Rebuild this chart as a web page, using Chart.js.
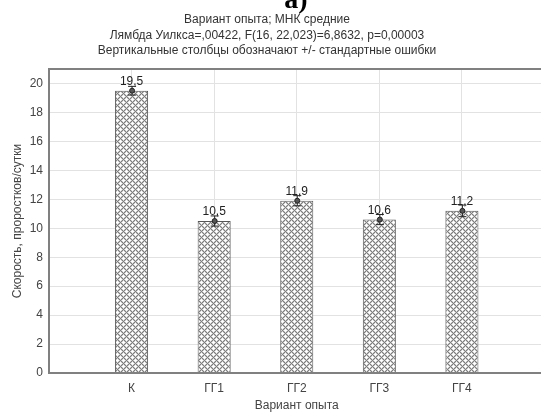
<!DOCTYPE html>
<html>
<head>
<meta charset="utf-8">
<script src="https://cdn.jsdelivr.net/npm/chart.js@4.4.1/dist/chart.umd.min.js"></script>
<style>
  html, body { margin: 0; padding: 0; overflow: hidden; background: #fff; }
  #wrap { width: 541px; height: 413px; overflow: hidden; }
  canvas { display: block; }
</style>
</head>
<body>
<div id="wrap"><canvas id="chart" width="560" height="413"></canvas></div>
<script>
// Means and standard errors of seedling speed per experiment variant
const categories = ['К', 'ГГ1', 'ГГ2', 'ГГ3', 'ГГ4'];
const means = [19.5, 10.5, 11.9, 10.6, 11.2];
const stdErrors = [0.3, 0.35, 0.35, 0.35, 0.4];
const yTicks = [0, 2, 4, 6, 8, 10, 12, 14, 16, 18, 20];
const panelLetter = 'а)';
const headerLines = [
  'Вариант опыта; МНК средние',
  'Лямбда Уилкса=,00422, F(16, 22,023)=6,8632, p=0,00003',
  'Вертикальные столбцы обозначают +/- стандартные ошибки'
];
const xTitle = 'Вариант опыта';
const yTitle = 'Скорость, проростков/сутки';

// empty slots on both sides keep a full category gap next to the frame
const xLabels = ['', ...categories, ''];
const barValues = [null, ...means, null];
const barErrors = [null, ...stdErrors, null];

const FONT = '"Liberation Sans", Arial, sans-serif';

// diagonal cross-hatch tile: dark crossing lines, a soft grey rim, white cells
function crossHatch(ctx) {
  const P = 6;
  const tile = document.createElement('canvas');
  tile.width = tile.height = P;
  const g = tile.getContext('2d');
  const img = g.createImageData(P, P);
  const dist = n => { const m = ((n % P) + P) % P; return Math.min(m, P - m); };
  for (let y = 0; y < P; y++) {
    for (let x = 0; x < P; x++) {
      const d = Math.min(dist(x + y), dist(x - y));
      const c = d === 0 ? 125 : d === 1 ? 205 : 255;
      const k = (y * P + x) * 4;
      img.data[k] = c; img.data[k + 1] = c; img.data[k + 2] = c; img.data[k + 3] = 255;
    }
  }
  g.putImageData(img, 0, 0);
  return ctx.createPattern(tile, 'repeat');
}

const headerPlugin = {
  id: 'header',
  afterDraw(chart) {
    const ctx = chart.ctx;
    ctx.save();
    ctx.fillStyle = '#000';
    ctx.textAlign = 'center';
    ctx.textBaseline = 'alphabetic';
    ctx.font = 'bold 28px "Liberation Serif", "Times New Roman", serif';
    ctx.fillText(panelLetter, 296, 8);
    ctx.fillStyle = '#333';
    ctx.textBaseline = 'middle';
    ctx.font = '12px ' + FONT;
    const ys = [20, 35.5, 51];
    headerLines.forEach((t, i) => ctx.fillText(t, 267, ys[i]));
    ctx.restore();
  }
};

const framePlugin = {
  id: 'frame',
  afterDatasetsDraw(chart) {
    const { ctx, chartArea: a } = chart;
    ctx.save();
    ctx.strokeStyle = '#808080';
    ctx.lineWidth = 2;
    ctx.strokeRect(a.left, a.top, a.right - a.left, a.bottom - a.top);
    ctx.restore();
  }
};

const errorBarPlugin = {
  id: 'errorBars',
  afterDatasetsDraw(chart) {
    const ctx = chart.ctx;
    const ys = chart.scales.y;
    const meta = chart.getDatasetMeta(0);
    ctx.save();
    meta.data.forEach((bar, i) => {
      const v = barValues[i];
      if (v == null) return;
      const e = barErrors[i];
      const x = bar.x;
      const yTop = ys.getPixelForValue(v + e);
      const yBot = ys.getPixelForValue(v - e);
      const yMid = ys.getPixelForValue(v);
      // value label
      ctx.fillStyle = '#222';
      ctx.font = '12px ' + FONT;
      ctx.textAlign = 'center';
      ctx.textBaseline = 'bottom';
      ctx.fillText(v.toFixed(1).replace('.', ','), x, yMid - 3);
      // whisker with caps
      ctx.strokeStyle = '#222';
      ctx.lineWidth = 1;
      ctx.beginPath();
      ctx.moveTo(x + 0.5, yTop); ctx.lineTo(x + 0.5, yBot);
      ctx.moveTo(x - 3.5, yTop); ctx.lineTo(x + 4.5, yTop);
      ctx.moveTo(x - 3.5, yBot); ctx.lineTo(x + 4.5, yBot);
      ctx.stroke();
      // mean marker
      ctx.fillStyle = '#555';
      ctx.beginPath();
      ctx.arc(x + 0.5, yMid, 2.5, 0, Math.PI * 2);
      ctx.fill();
      ctx.stroke();
    });
    ctx.restore();
  }
};

const canvas = document.getElementById('chart');
const ctx = canvas.getContext('2d');

new Chart(ctx, {
  type: 'bar',
  data: {
    labels: xLabels,
    datasets: [{
      data: barValues,
      backgroundColor: crossHatch(ctx),
      borderColor: '#555',
      borderWidth: 1,
      barPercentage: 0.4,
      categoryPercentage: 1
    }]
  },
  options: {
    responsive: false,
    animation: false,
    events: [],
    layout: { padding: { top: 69, right: 15.5, left: 0, bottom: 0 } },
    plugins: {
      legend: { display: false },
      tooltip: { enabled: false },
      title: { display: false }
    },
    scales: {
      x: {
        offset: false,
        grid: { color: '#e2e2e2', drawTicks: false, offset: false },
        border: { display: false },
        ticks: { color: '#444', padding: 8, font: { size: 12, family: FONT }, maxRotation: 0, autoSkip: false },
        title: { display: true, text: xTitle, color: '#444', font: { size: 12, family: FONT }, padding: { top: 0, bottom: 0 } },
        afterFit(s) { s.height = 40; }
      },
      y: {
        min: 0,
        max: 21,
        afterBuildTicks(s) { s.ticks = yTicks.map(v => ({ value: v })); },
        grid: { color: '#e2e2e2', drawTicks: false },
        border: { display: false },
        ticks: { color: '#444', padding: 6, font: { size: 12, family: FONT } },
        title: { display: true, text: yTitle, color: '#444', font: { size: 12, family: FONT }, padding: { top: 10, bottom: 0 } },
        afterFit(s) { s.width = 49; }
      }
    }
  },
  plugins: [headerPlugin, framePlugin, errorBarPlugin]
});
</script>
</body>
</html>
